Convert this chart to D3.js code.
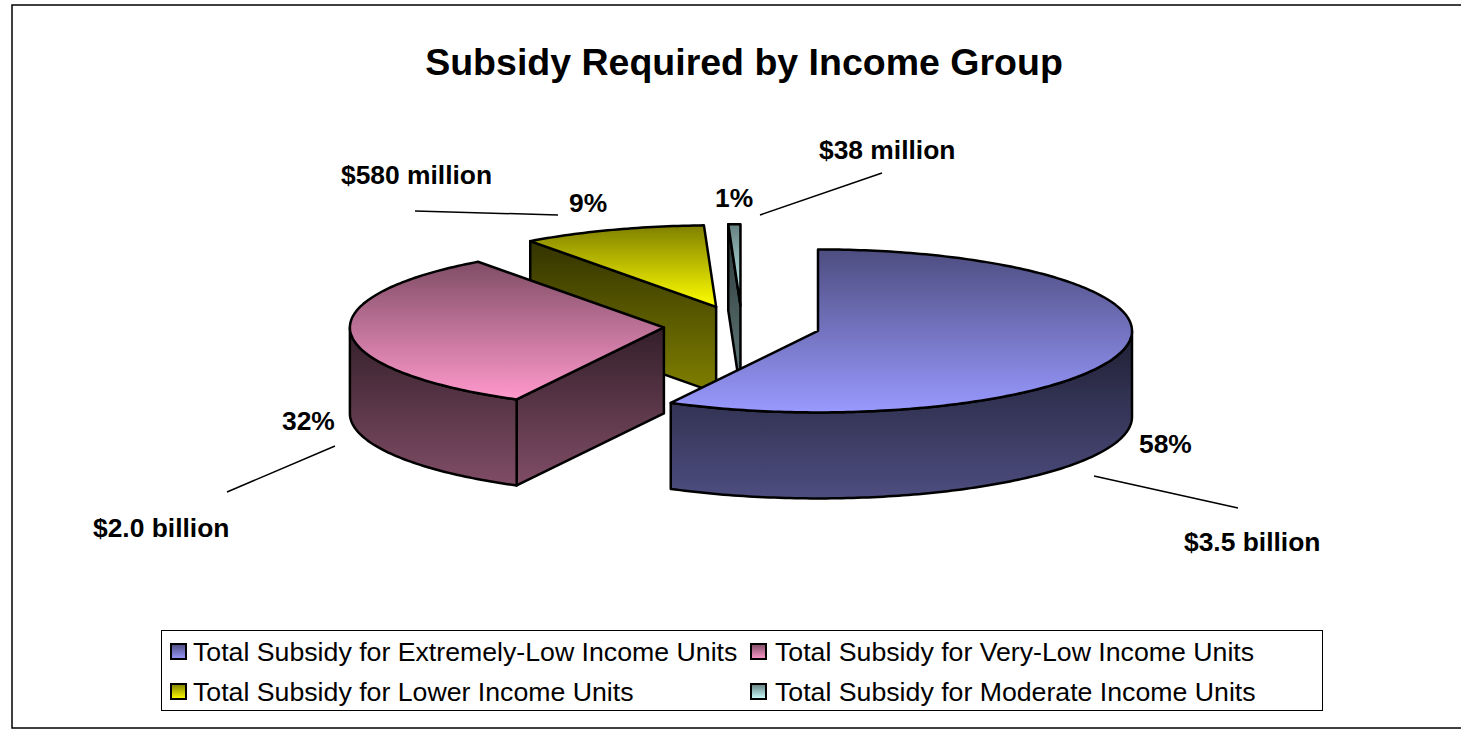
<!DOCTYPE html>
<html>
<head>
<meta charset="utf-8">
<title>Subsidy Required by Income Group</title>
<script src="https://cdn.jsdelivr.net/npm/d3@7"></script>
<style>
html, body { margin: 0; padding: 0; background: #fff; overflow: hidden; }
text { font-family: "Liberation Sans", Arial, sans-serif; fill: #000; }
</style>
</head>
<body>
<div id="chart"></div>
<script>
// values
const titleText = "Subsidy Required by Income Group";
const categories = [
    "Total Subsidy for Extremely-Low Income Units",
    "Total Subsidy for Very-Low Income Units",
    "Total Subsidy for Lower Income Units",
    "Total Subsidy for Moderate Income Units"
];
const subsidyBillions = [3.54, 1.97, 0.58, 0.038];
const percentLabels = ["58%", "32%", "9%", "1%"];
const amountLabels = ["$3.5 billion", "$2.0 billion", "$580 million", "$38 million"];
const baseColors = ["#9999ff", "#ff99cc", "#ffff00", "#ccffff"];

// layout
const width = 1461, height = 729;
const cx = 742, cy = 326, rx = 314, ry = 81.5, depth = 86, explode = 0.2494;
const percentPos = [[1139, 453], [282, 430], [569, 212], [715, 207]];
const amountPos = [[1184, 551], [93, 537], [341, 184], [819, 159]];
const leaders = [[1094, 476, 1238, 508], [335, 446, 227, 492], [558, 215, 415, 211], [760, 215, 882, 173]];

const svg = d3.select("#chart").append("svg")
    .attr("width", width).attr("height", height)
    .style("display", "block");
const defs = svg.append("defs");

function gradient(id, from, to) {
    const g = defs.append("linearGradient").attr("id", id)
        .attr("x1", 0).attr("y1", 0).attr("x2", 0).attr("y2", 1);
    g.append("stop").attr("offset", "0%").attr("stop-color", from);
    g.append("stop").attr("offset", "100%").attr("stop-color", to);
}
baseColors.forEach((c, i) => {
    const shade = d3.interpolateRgb("#000", c);
    gradient("top" + i, shade(0.5), c);
    gradient("wall" + i, shade(0.2), shade(0.5));
});

// frame
svg.append("rect").attr("x", 12).attr("y", 5)
    .attr("width", width + 20).attr("height", 723)
    .attr("fill", "#fff").attr("stroke", "#000").attr("stroke-width", 1.5);

svg.append("text").attr("x", 744).attr("y", 75)
    .attr("text-anchor", "middle")
    .style("font-size", "37.5px").style("font-weight", "bold")
    .text(titleText);

// pie angles, 0 at the top going clockwise
const slices = d3.pie().sort(null)(subsidyBillions);
const line = d3.line();

slices.forEach(s => {
    const mid = (s.startAngle + s.endAngle) / 2;
    s.ax = cx + explode * rx * Math.sin(mid);
    s.ay = cy - explode * ry * Math.cos(mid);
    s.rim = t => [s.ax + rx * Math.sin(t), s.ay - ry * Math.cos(t)];
    s.arcPoints = (a, b) => {
        const n = Math.max(2, Math.ceil((b - a) * 60));
        return d3.range(n + 1).map(k => s.rim(a + (b - a) * k / n));
    };
});

const drop = p => [p[0], p[1] + depth];
const pieG = svg.append("g")
    .attr("stroke", "#000").attr("stroke-width", 2.5).attr("stroke-linejoin", "round");

// back slices first, the big blue one last
d3.range(slices.length).reverse().forEach(i => {
    const s = slices[i];
    const g = pieG.append("g");
    // cut wall on the start side, only when it looks at the viewer
    if (Math.sin(s.startAngle) < 0) {
        const a = [s.ax, s.ay], b = s.rim(s.startAngle);
        g.append("path").attr("fill", `url(#wall${i})`)
            .attr("d", line([a, b, drop(b), drop(a)]) + "Z");
    }
    // outer wall, front half of the ellipse only
    const a0 = Math.max(s.startAngle, Math.PI / 2), a1 = Math.min(s.endAngle, Math.PI * 1.5);
    if (a1 > a0) {
        const upper = s.arcPoints(a0, a1);
        const lower = upper.map(drop).reverse();
        g.append("path").attr("fill", `url(#wall${i})`)
            .attr("d", line(upper.concat(lower)) + "Z");
    }
    // top face
    g.append("path").attr("fill", `url(#top${i})`)
        .attr("d", line([[s.ax, s.ay]].concat(s.arcPoints(s.startAngle, s.endAngle))) + "Z");
});

// labels and leader lines
svg.append("g").selectAll("line").data(leaders).join("line")
    .attr("x1", d => d[0]).attr("y1", d => d[1])
    .attr("x2", d => d[2]).attr("y2", d => d[3])
    .attr("stroke", "#000").attr("stroke-width", 1.5);

const labelG = svg.append("g").style("font-size", "26.4px").style("font-weight", "bold");
labelG.selectAll(".pct").data(percentLabels).join("text")
    .attr("class", "pct")
    .attr("x", (d, i) => percentPos[i][0]).attr("y", (d, i) => percentPos[i][1])
    .text(d => d);
labelG.selectAll(".amt").data(amountLabels).join("text")
    .attr("class", "amt")
    .attr("x", (d, i) => amountPos[i][0]).attr("y", (d, i) => amountPos[i][1])
    .text(d => d);

// legend
svg.append("rect").attr("x", 161.5).attr("y", 630.5)
    .attr("width", 1161).attr("height", 80)
    .attr("fill", "#fff").attr("stroke", "#000").attr("stroke-width", 1);

const legendX = d3.scaleOrdinal().domain([0, 1]).range([171, 751]);
const legendY = d3.scaleOrdinal().domain([0, 1]).range([644, 684]);
const keys = svg.append("g").selectAll("g").data(categories).join("g")
    .attr("transform", (d, i) => `translate(${legendX(i % 2)},${legendY(Math.floor(i / 2))})`);
keys.append("rect").attr("width", 15).attr("height", 15)
    .attr("fill", (d, i) => `url(#top${i})`)
    .attr("stroke", "#000").attr("stroke-width", 2);
keys.append("text").attr("x", (d, i) => i % 2 ? 24 : 22).attr("y", 17)
    .style("font-size", "26.7px")
    .text(d => d);
</script>
</body>
</html>
